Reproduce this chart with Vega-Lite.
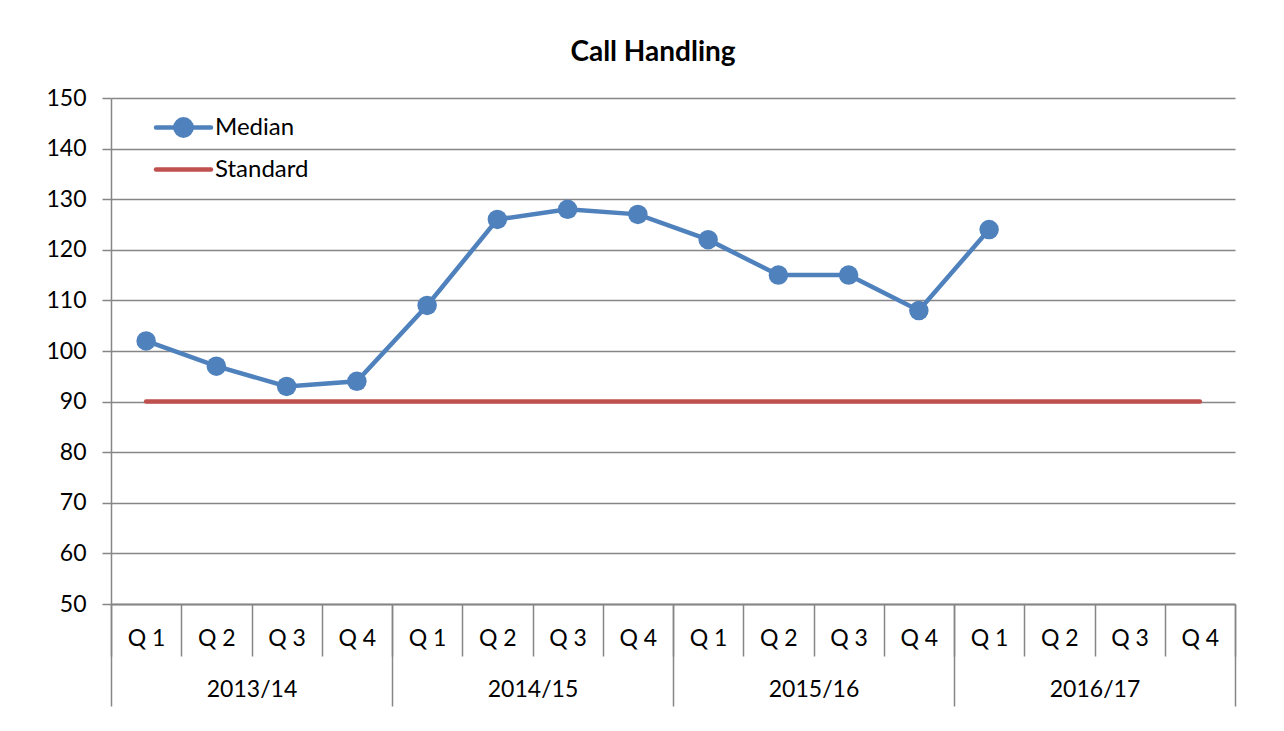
{
  "$schema": "https://vega.github.io/schema/vega-lite/v6.json",
  "autosize": {"type": "none"},
  "width": 1124,
  "height": 506,
  "padding": {"left": 111, "top": 98, "right": 49, "bottom": 127},
  "background": "white",
  "config": {
    "view": {"stroke": null},
    "font": "Lato",
    "axis": {"labelFont": "Lato", "labelColor": "#000000", "labelFontSize": 23, "labelFontWeight": "normal"},
    "legend": {"labelFont": "Lato"}
  },
  "title": {
    "text": "Call Handling",
    "font": "Lato",
    "fontSize": 28,
    "fontWeight": "bold",
    "color": "#000000",
    "anchor": "middle",
    "frame": "group",
    "dx": -20,
    "offset": 20
  },
  "data": {
    "values": [
      {"period": "2013/14 Q 1", "year": "2013/14", "series": "Median", "value": 102},
      {"period": "2013/14 Q 2", "year": "2013/14", "series": "Median", "value": 97},
      {"period": "2013/14 Q 3", "year": "2013/14", "series": "Median", "value": 93},
      {"period": "2013/14 Q 4", "year": "2013/14", "series": "Median", "value": 94},
      {"period": "2014/15 Q 1", "year": "2014/15", "series": "Median", "value": 109},
      {"period": "2014/15 Q 2", "year": "2014/15", "series": "Median", "value": 126},
      {"period": "2014/15 Q 3", "year": "2014/15", "series": "Median", "value": 128},
      {"period": "2014/15 Q 4", "year": "2014/15", "series": "Median", "value": 127},
      {"period": "2015/16 Q 1", "year": "2015/16", "series": "Median", "value": 122},
      {"period": "2015/16 Q 2", "year": "2015/16", "series": "Median", "value": 115},
      {"period": "2015/16 Q 3", "year": "2015/16", "series": "Median", "value": 115},
      {"period": "2015/16 Q 4", "year": "2015/16", "series": "Median", "value": 108},
      {"period": "2016/17 Q 1", "year": "2016/17", "series": "Median", "value": 124},
      {"period": "2013/14 Q 1", "year": "2013/14", "series": "Standard", "value": 90},
      {"period": "2013/14 Q 2", "year": "2013/14", "series": "Standard", "value": 90},
      {"period": "2013/14 Q 3", "year": "2013/14", "series": "Standard", "value": 90},
      {"period": "2013/14 Q 4", "year": "2013/14", "series": "Standard", "value": 90},
      {"period": "2014/15 Q 1", "year": "2014/15", "series": "Standard", "value": 90},
      {"period": "2014/15 Q 2", "year": "2014/15", "series": "Standard", "value": 90},
      {"period": "2014/15 Q 3", "year": "2014/15", "series": "Standard", "value": 90},
      {"period": "2014/15 Q 4", "year": "2014/15", "series": "Standard", "value": 90},
      {"period": "2015/16 Q 1", "year": "2015/16", "series": "Standard", "value": 90},
      {"period": "2015/16 Q 2", "year": "2015/16", "series": "Standard", "value": 90},
      {"period": "2015/16 Q 3", "year": "2015/16", "series": "Standard", "value": 90},
      {"period": "2015/16 Q 4", "year": "2015/16", "series": "Standard", "value": 90},
      {"period": "2016/17 Q 1", "year": "2016/17", "series": "Standard", "value": 90},
      {"period": "2016/17 Q 2", "year": "2016/17", "series": "Standard", "value": 90},
      {"period": "2016/17 Q 3", "year": "2016/17", "series": "Standard", "value": 90},
      {"period": "2016/17 Q 4", "year": "2016/17", "series": "Standard", "value": 90}
    ]
  },
  "encoding": {
    "y": {
      "field": "value",
      "type": "quantitative",
      "scale": {"domain": [50, 150], "nice": false, "zero": false},
      "axis": {
        "title": null,
        "values": [50, 60, 70, 80, 90, 100, 110, 120, 130, 140, 150],
        "grid": true,
        "gridColor": "#868686",
        "gridWidth": 1.5,
        "tickSize": 9,
        "tickColor": "#868686",
        "tickWidth": 1.5,
        "domainColor": "#868686",
        "domainWidth": 1.5,
        "labelPadding": 16
      }
    }
  },
  "layer": [
    {
      "layer": [
        {
          "mark": {"type": "line", "strokeWidth": 4.5, "strokeCap": "round"},
          "encoding": {
            "x": {
              "field": "period",
              "type": "nominal",
              "scale": {"type": "band", "paddingInner": 0, "paddingOuter": 0},
              "axis": {
                "title": null,
                "orient": "bottom",
                "labelExpr": "substring(datum.label, 8)",
                "labelAngle": 0,
                "tickBand": "extent",
                "tickSize": 52,
                "tickColor": "#868686",
                "tickWidth": 1.5,
                "domainColor": "#868686",
                "domainWidth": 1.5,
                "labelBaseline": "middle",
                "labelPadding": -18,
                "grid": false
              }
            },
            "color": {
              "field": "series",
              "type": "nominal",
              "scale": {"domain": ["Median", "Standard"], "range": ["#4F81BD", "#C0504D"]},
              "legend": {
                "title": null,
                "orient": "none",
                "legendX": 48,
                "legendY": 5,
                "padding": 0,
                "rowPadding": 0,
                "symbolSize": 1936,
                "symbolStrokeWidth": 4.5,
                "labelFontSize": 24,
                "labelColor": "#000000",
                "labelOffset": 7,
                "encode": {
                  "symbols": {
                    "update": {
                      "shape": {"signal": "datum.value == 'Median' ? 'M-1.25,0H1.25M-0.37,0A0.37,0.37 0 1,1 0.37,0A0.37,0.37 0 1,1 -0.37,0Z' : 'M-1.25,0H1.25'"},
                      "fill": {"signal": "datum.value == 'Median' ? '#4F81BD' : 'transparent'"},
                      "strokeWidth": {"value": 4.5},
                      "strokeCap": {"value": "round"}
                    }
                  }
                }
              }
            }
          }
        },
        {
          "transform": [{"filter": "datum.series == 'Median'"}],
          "mark": {"type": "point", "filled": true, "opacity": 1, "size": 380, "color": "#4F81BD"},
          "encoding": {
            "x": {"field": "period", "type": "nominal"}
          }
        }
      ]
    },
    {
      "mark": {"type": "point", "opacity": 0},
      "encoding": {
        "x": {
          "field": "year",
          "type": "nominal",
          "scale": {"type": "band", "paddingInner": 0, "paddingOuter": 0},
          "axis": {
            "title": null,
            "orient": "bottom",
            "labelAngle": 0,
            "tickBand": "extent",
            "tickSize": 102,
            "tickColor": "#868686",
            "tickWidth": 1.5,
            "domainColor": "#868686",
            "domainWidth": 1.5,
            "labelBaseline": "middle",
            "labelPadding": -17,
            "grid": false
          }
        }
      }
    }
  ],
  "resolve": {"scale": {"x": "independent"}}
}
